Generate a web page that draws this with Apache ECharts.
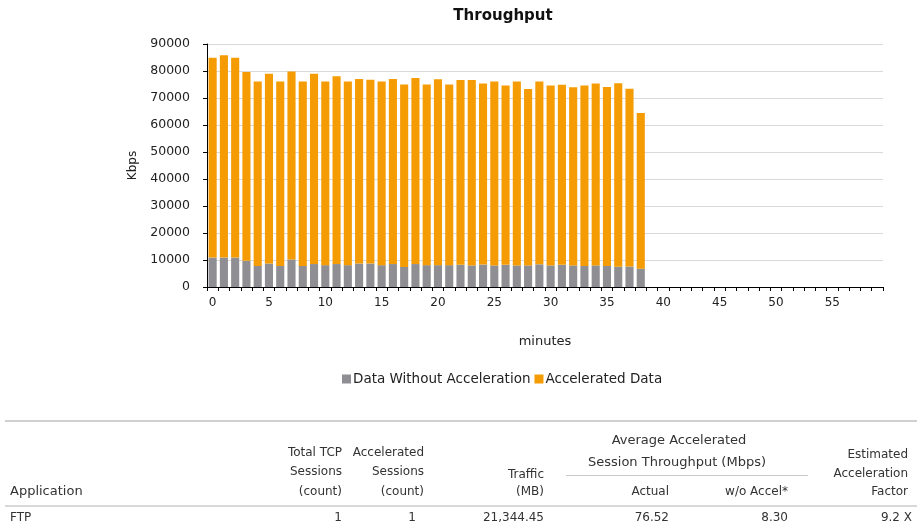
<!DOCTYPE html>
<html>
<head>
<meta charset="utf-8">
<script src="https://cdn.jsdelivr.net/npm/echarts@6/dist/echarts.min.js"></script>
<style>
html,body{margin:0;padding:0;background:#fff;}
#chart{width:917px;height:529px;}
</style>
</head>
<body>
<div id="chart"></div>
<script>
const minutes = ['0','1','2','3','4','5','6','7','8','9','10','11','12','13','14','15','16','17','18','19',
  '20','21','22','23','24','25','26','27','28','29','30','31','32','33','34','35','36','37','38','39',
  '40','41','42','43','44','45','46','47','48','49','50','51','52','53','54','55','56','57','58','59'];
const withoutAccel = [10900,10900,10900,9700,7800,8700,7800,10200,7800,8500,8100,8500,8100,8700,8700,8100,8500,7400,8500,8100,
  8100,8100,8200,8000,8300,8000,8200,8000,8000,8400,8000,8200,8000,7800,8000,7800,7500,7600,6800];
const accelerated = [74000,74900,74000,69900,68300,70300,68300,69600,68300,70500,68000,69600,68000,68300,68100,68000,68500,67600,68900,66900,
  68800,66900,68500,68700,67100,68100,66400,68100,65300,67700,66600,66700,66000,66800,67400,66300,68000,65800,57600];
const seriesNames = ['Data Without Acceleration','Accelerated Data'];

const tableHeaders = {
  app: 'Application',
  total: ['Total TCP','Sessions','(count)'],
  accel: ['Accelerated','Sessions','(count)'],
  traffic: ['Traffic','(MB)'],
  avg: ['Average Accelerated','Session Throughput (Mbps)'],
  actual: 'Actual',
  woAccel: 'w/o Accel*',
  factor: ['Estimated','Acceleration','Factor']
};
const tableRow = ['FTP','1','1','21,344.45','76.52','8.30','9.2 X'];

const FONT = 'DejaVu Sans';
const TXT = '#333';
function t(x, y, text, align, size) {
  return {type:'text', x:x, y:y, style:{text:text, fill:TXT, font:(size||12) + 'px "' + FONT + '"', align:align||'left', verticalAlign:'middle'}};
}
const g = [];
g.push({type:'rect', shape:{x:5, y:420, width:912, height:2}, style:{fill:'#d0d0d0'}});
g.push({type:'rect', shape:{x:5, y:505, width:912, height:2}, style:{fill:'#d8d8d8'}});
g.push({type:'rect', shape:{x:566, y:475, width:242, height:1}, style:{fill:'#c8c8c8'}});
g.push(t(10, 492, tableHeaders.app, 'left', 13));
g.push(t(342, 453, tableHeaders.total[0], 'right'));
g.push(t(342, 472, tableHeaders.total[1], 'right'));
g.push(t(342, 492, tableHeaders.total[2], 'right'));
g.push(t(424, 453, tableHeaders.accel[0], 'right'));
g.push(t(424, 472, tableHeaders.accel[1], 'right'));
g.push(t(424, 492, tableHeaders.accel[2], 'right'));
g.push(t(544, 475, tableHeaders.traffic[0], 'right'));
g.push(t(544, 492, tableHeaders.traffic[1], 'right'));
g.push(t(679, 441, tableHeaders.avg[0], 'center', 13));
g.push(t(677, 463, tableHeaders.avg[1], 'center', 13));
g.push(t(669, 492, tableHeaders.actual, 'right'));
g.push(t(788, 492, tableHeaders.woAccel, 'right'));
g.push(t(908, 455, tableHeaders.factor[0], 'right'));
g.push(t(908, 474, tableHeaders.factor[1], 'right'));
g.push(t(908, 492, tableHeaders.factor[2], 'right'));
g.push(t(10, 518, tableRow[0]));
g.push(t(342, 518, tableRow[1], 'right'));
g.push(t(416, 518, tableRow[2], 'right'));
g.push(t(544, 518, tableRow[3], 'right'));
g.push(t(669, 518, tableRow[4], 'right'));
g.push(t(788, 518, tableRow[5], 'right'));
g.push(t(912, 518, tableRow[6], 'right'));

const chart = echarts.init(document.getElementById('chart'), null, {renderer:'canvas'});
chart.setOption({
  animation:false,
  backgroundColor:'#fff',
  title:{text:'Throughput', left:498, textAlign:'center', top:4,
    textStyle:{fontFamily:FONT, fontSize:15, fontWeight:'bold', color:'#111'}},
  legend:{data:seriesNames, left:337, top:367, itemWidth:9, itemHeight:9, itemGap:4, icon:'rect',
    textStyle:{fontFamily:FONT, fontSize:13.5, color:'#222', padding:[0,0,0,-3]}},
  grid:{left:207, right:34, top:44, bottom:242, containLabel:false},
  xAxis:{type:'category', data:minutes, name:'minutes', nameLocation:'middle', nameGap:48,
    nameTextStyle:{fontFamily:FONT, fontSize:13, color:'#222'},
    axisLine:{lineStyle:{color:'#000', width:1}},
    axisTick:{show:true, interval:0, length:4, lineStyle:{color:'#000'}},
    axisLabel:{interval:4, fontFamily:FONT, fontSize:12, color:'#222', margin:10},
    splitLine:{show:false}},
  yAxis:{type:'value', min:0, max:90000, interval:10000, name:'Kbps', nameLocation:'middle', nameGap:53, nameRotate:90,
    nameTextStyle:{fontFamily:FONT, fontSize:12, color:'#222'},
    axisLine:{show:true, lineStyle:{color:'#000'}},
    axisTick:{show:true, length:4, lineStyle:{color:'#000'}},
    axisLabel:{fontFamily:FONT, fontSize:12.5, color:'#222', margin:17, formatter:function(v){return String(v);}},
    splitLine:{lineStyle:{color:'#d9d9d9', width:1}}},
  series:[
    {name:seriesNames[0], type:'bar', stack:'s', data:withoutAccel, barWidth:'72%', itemStyle:{color:'#8f8f93'}},
    {name:seriesNames[1], type:'bar', stack:'s', data:accelerated, barWidth:'72%', itemStyle:{color:'#f59c05'}}
  ],
  graphic:g
});
</script>
</body>
</html>
